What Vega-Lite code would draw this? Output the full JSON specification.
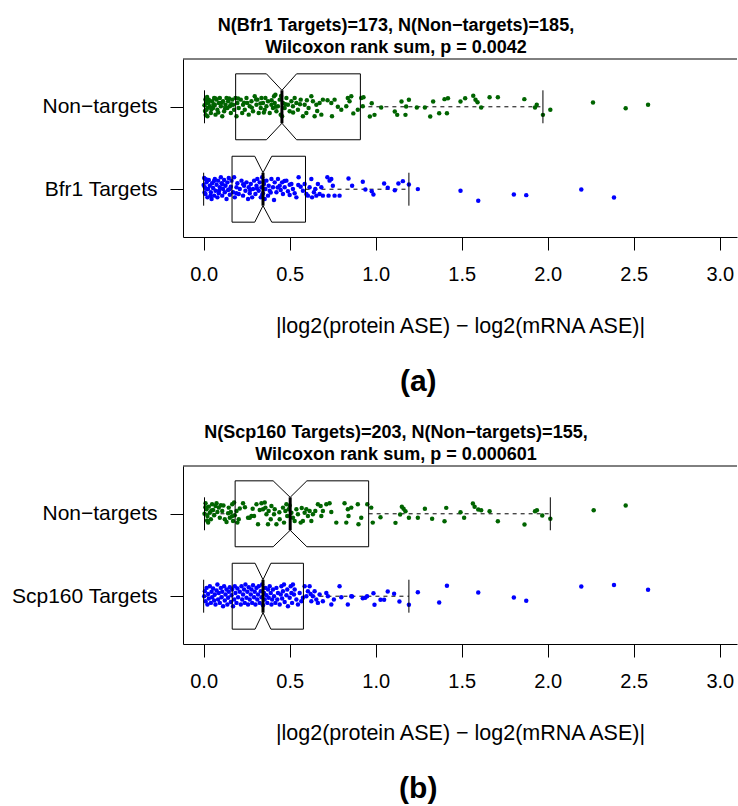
{
"$schema": "https://vega.github.io/schema/vega-lite/v6.json",
"background": "white",
"padding": {"left": 9, "top": 16, "right": 0, "bottom": 0},
"spacing": 26,
"config": {"view": {"stroke": null}, "font": "Liberation Sans",
 "axis": {"labelFont": "Liberation Sans", "titleFont": "Liberation Sans", "labelColor": "black", "titleColor": "black", "tickColor": "black", "domainColor": "black", "grid": false, "tickWidth": 1, "domainWidth": 1}},
"datasets": {
"aN": [{"x":0.017,"y":2.046},{"x":0.017,"y":1.965},{"x":0.022,"y":1.884},{"x":0.030,"y":2.087},{"x":0.036,"y":2.006},{"x":0.042,"y":1.925},{"x":0.049,"y":2.066},{"x":0.055,"y":1.985},{"x":0.061,"y":2.107},{"x":0.065,"y":2.026},{"x":0.069,"y":1.905},{"x":0.075,"y":2.087},{"x":0.080,"y":1.965},{"x":0.088,"y":2.046},{"x":0.094,"y":2.107},{"x":0.100,"y":2.006},{"x":0.108,"y":1.884},{"x":0.113,"y":2.066},{"x":0.119,"y":1.945},{"x":0.127,"y":2.026},{"x":0.133,"y":2.107},{"x":0.138,"y":1.985},{"x":0.142,"y":2.066},{"x":0.152,"y":2.006},{"x":0.158,"y":1.925},{"x":0.166,"y":2.087},{"x":0.171,"y":2.026},{"x":0.177,"y":1.965},{"x":0.185,"y":2.107},{"x":0.191,"y":1.884},{"x":0.196,"y":2.046},{"x":0.204,"y":1.985},{"x":0.216,"y":2.087},{"x":0.224,"y":1.925},{"x":0.229,"y":2.026},{"x":0.239,"y":1.965},{"x":0.249,"y":2.107},{"x":0.254,"y":2.046},{"x":0.262,"y":1.905},{"x":0.268,"y":2.006},{"x":0.278,"y":2.066},{"x":0.287,"y":1.945},{"x":0.297,"y":2.127},{"x":0.307,"y":2.026},{"x":0.312,"y":2.087},{"x":0.320,"y":1.925},{"x":0.332,"y":1.985},{"x":0.336,"y":2.107},{"x":0.345,"y":2.046},{"x":0.355,"y":1.965},{"x":0.359,"y":2.107},{"x":0.365,"y":2.006},{"x":0.374,"y":2.066},{"x":0.384,"y":1.925},{"x":0.394,"y":2.026},{"x":0.403,"y":1.985},{"x":0.409,"y":2.127},{"x":0.413,"y":2.046},{"x":0.417,"y":2.147},{"x":0.423,"y":1.945},{"x":0.432,"y":2.006},{"x":0.442,"y":2.087},{"x":0.448,"y":1.905},{"x":0.456,"y":1.884},{"x":0.461,"y":2.046},{"x":0.471,"y":1.985},{"x":0.481,"y":2.107},{"x":0.490,"y":2.026},{"x":0.500,"y":1.945},{"x":0.510,"y":2.066},{"x":0.519,"y":2.006},{"x":0.529,"y":2.107},{"x":0.539,"y":2.046},{"x":0.548,"y":1.965},{"x":0.564,"y":2.087},{"x":0.577,"y":1.884},{"x":0.587,"y":2.026},{"x":0.597,"y":1.925},{"x":0.610,"y":1.985},{"x":0.626,"y":2.127},{"x":0.635,"y":2.066},{"x":0.645,"y":1.884},{"x":0.655,"y":2.026},{"x":0.674,"y":2.046},{"x":0.684,"y":1.905},{"x":0.693,"y":2.087},{"x":0.742,"y":2.046},{"x":0.746,"y":1.884},{"x":0.761,"y":2.087},{"x":0.800,"y":1.965},{"x":0.829,"y":2.006},{"x":0.838,"y":2.107},{"x":0.848,"y":2.066},{"x":0.858,"y":2.127},{"x":0.896,"y":1.965},{"x":0.916,"y":2.107},{"x":0.925,"y":2.006},
{"x":0.005,"y":2.02},{"x":0.008,"y":1.95},{"x":0.010,"y":2.09},{"x":0.012,"y":1.90},{"x":0.020,"y":2.12},{"x":0.025,"y":1.99},{"x":0.028,"y":2.05},{"x":0.045,"y":1.97},{"x":0.058,"y":2.03},{"x":0.070,"y":2.10},{"x":0.085,"y":1.93},{"x":0.105,"y":2.05},{"x":0.125,"y":1.98},{"x":0.148,"y":2.10},{"x":0.160,"y":2.03},{"x":0.200,"y":2.10},{"x":0.235,"y":2.05},{"x":0.280,"y":1.99},{"x":0.305,"y":2.09},{"x":0.330,"y":2.04},{"x":0.350,"y":1.93},{"x":0.395,"y":2.08},{"x":0.420,"y":2.00},{"x":0.450,"y":2.13},{"x":0.475,"y":2.03},{"x":0.520,"y":1.93},{"x":0.560,"y":2.03},{"x":0.600,"y":2.08},{"x":0.660,"y":1.95},{"x":0.720,"y":2.08},{"x":0.780,"y":2.00},{"x":0.870,"y":1.92},
{"x":0.929,"y":2.117},{"x":0.977,"y":2.044},{"x":0.966,"y":1.882},{"x":0.993,"y":1.902},{"x":1.032,"y":1.991},{"x":1.111,"y":1.943},{"x":1.125,"y":1.902},{"x":1.150,"y":2.064},{"x":1.173,"y":1.902},{"x":1.193,"y":2.085},{"x":1.177,"y":2.004},{"x":1.239,"y":1.991},{"x":1.286,"y":1.991},{"x":1.317,"y":1.882},{"x":1.334,"y":2.064},{"x":1.369,"y":1.922},{"x":1.400,"y":2.093},{"x":1.414,"y":1.922},{"x":1.420,"y":2.105},{"x":1.493,"y":2.064},{"x":1.520,"y":2.105},{"x":1.567,"y":2.133},{"x":1.580,"y":2.085},{"x":1.592,"y":2.056},{"x":1.613,"y":1.991},{"x":1.662,"y":2.117},{"x":1.710,"y":2.117},{"x":1.864,"y":2.093},{"x":1.926,"y":1.991},{"x":1.936,"y":2.024},{"x":1.972,"y":1.902},{"x":2.015,"y":1.963},{"x":2.263,"y":2.052},{"x":2.453,"y":1.983},{"x":2.583,"y":2.024}],
"aT": [{"x":0.003,"y":1.136},{"x":0.007,"y":1.023},{"x":0.011,"y":0.942},{"x":0.017,"y":1.083},{"x":0.022,"y":0.901},{"x":0.026,"y":1.002},{"x":0.030,"y":1.112},{"x":0.036,"y":1.043},{"x":0.042,"y":0.962},{"x":0.046,"y":0.881},{"x":0.049,"y":1.071},{"x":0.055,"y":1.015},{"x":0.061,"y":0.922},{"x":0.065,"y":1.124},{"x":0.069,"y":0.982},{"x":0.075,"y":1.055},{"x":0.080,"y":0.901},{"x":0.084,"y":1.104},{"x":0.088,"y":0.950},{"x":0.094,"y":1.023},{"x":0.100,"y":1.144},{"x":0.104,"y":1.071},{"x":0.108,"y":0.922},{"x":0.113,"y":1.002},{"x":0.119,"y":1.112},{"x":0.123,"y":0.962},{"x":0.127,"y":1.043},{"x":0.133,"y":0.881},{"x":0.138,"y":1.083},{"x":0.142,"y":0.990},{"x":0.146,"y":1.136},{"x":0.152,"y":0.934},{"x":0.158,"y":1.031},{"x":0.162,"y":1.104},{"x":0.171,"y":0.962},{"x":0.177,"y":1.144},{"x":0.181,"y":0.901},{"x":0.191,"y":1.023},{"x":0.196,"y":1.071},{"x":0.204,"y":0.942},{"x":0.210,"y":1.002},{"x":0.220,"y":1.104},{"x":0.229,"y":0.922},{"x":0.235,"y":1.043},{"x":0.243,"y":0.982},{"x":0.249,"y":1.083},{"x":0.258,"y":0.881},{"x":0.262,"y":1.023},{"x":0.268,"y":0.950},{"x":0.274,"y":1.063},{"x":0.282,"y":0.901},{"x":0.287,"y":1.002},{"x":0.293,"y":1.104},{"x":0.301,"y":0.942},{"x":0.307,"y":1.043},{"x":0.312,"y":1.124},{"x":0.320,"y":0.982},{"x":0.326,"y":1.083},{"x":0.332,"y":0.901},{"x":0.336,"y":1.023},{"x":0.340,"y":1.144},{"x":0.345,"y":0.950},{"x":0.351,"y":1.063},{"x":0.355,"y":0.881},{"x":0.359,"y":1.002},{"x":0.365,"y":1.104},{"x":0.374,"y":0.922},{"x":0.378,"y":1.043},{"x":0.384,"y":0.982},{"x":0.394,"y":1.124},{"x":0.403,"y":1.023},{"x":0.409,"y":0.869},{"x":0.413,"y":1.083},{"x":0.423,"y":0.962},{"x":0.432,"y":1.124},{"x":0.442,"y":1.043},{"x":0.448,"y":0.990},{"x":0.456,"y":1.083},{"x":0.461,"y":0.942},{"x":0.471,"y":1.023},{"x":0.481,"y":1.104},{"x":0.490,"y":0.974},{"x":0.500,"y":1.055},{"x":0.510,"y":1.063},{"x":0.519,"y":1.002},{"x":0.529,"y":0.950},{"x":0.539,"y":0.901},{"x":0.552,"y":1.144},{"x":0.564,"y":1.031},{"x":0.577,"y":0.982},{"x":0.587,"y":1.063},{"x":0.597,"y":0.942},{"x":0.606,"y":0.922},{"x":0.616,"y":1.023},{"x":0.626,"y":1.124},{"x":0.630,"y":0.901},{"x":0.641,"y":0.962},{"x":0.649,"y":1.002},{"x":0.655,"y":0.922},{"x":0.664,"y":1.063},{"x":0.674,"y":0.942},{"x":0.684,"y":1.023},{"x":0.693,"y":0.922},{"x":0.719,"y":1.144},{"x":0.726,"y":0.922},{"x":0.732,"y":1.104},{"x":0.742,"y":1.124},{"x":0.751,"y":1.043},{"x":0.761,"y":0.922},{"x":0.790,"y":0.922},
{"x":0.000,"y":1.05},{"x":0.005,"y":0.96},{"x":0.013,"y":1.12},{"x":0.020,"y":1.00},{"x":0.040,"y":0.92},{"x":0.060,"y":1.10},{"x":0.090,"y":0.98},{"x":0.110,"y":1.06},{"x":0.150,"y":1.00},{"x":0.190,"y":0.95},{"x":0.230,"y":1.06},{"x":0.270,"y":0.99},{"x":0.310,"y":1.01},{"x":0.340,"y":0.93},{"x":0.350,"y":1.10},{"x":0.390,"y":0.96},{"x":0.430,"y":1.02},{"x":0.470,"y":1.10},{"x":0.500,"y":0.93},{"x":0.550,"y":1.05},
{"x":0.842,"y":1.131},{"x":0.863,"y":1.041},{"x":0.925,"y":1.090},{"x":0.940,"y":0.997},{"x":0.977,"y":0.976},{"x":0.987,"y":0.936},{"x":1.049,"y":1.070},{"x":1.070,"y":1.017},{"x":1.111,"y":0.988},{"x":1.132,"y":1.070},{"x":1.158,"y":1.098},{"x":1.193,"y":1.057},{"x":1.245,"y":1.001},{"x":1.493,"y":0.980},{"x":1.596,"y":0.859},{"x":1.803,"y":0.936},{"x":1.875,"y":0.928},{"x":2.195,"y":0.997},{"x":2.385,"y":0.899}],
"bN": [{"x":0.011,"y":2.127},{"x":0.017,"y":2.055},{"x":0.022,"y":1.974},{"x":0.026,"y":1.893},{"x":0.030,"y":2.087},{"x":0.036,"y":2.014},{"x":0.042,"y":1.933},{"x":0.049,"y":2.115},{"x":0.055,"y":2.047},{"x":0.061,"y":1.982},{"x":0.069,"y":2.095},{"x":0.075,"y":2.127},{"x":0.080,"y":2.022},{"x":0.088,"y":2.075},{"x":0.094,"y":1.953},{"x":0.100,"y":2.103},{"x":0.108,"y":2.034},{"x":0.123,"y":1.933},{"x":0.133,"y":1.901},{"x":0.142,"y":2.006},{"x":0.146,"y":2.075},{"x":0.152,"y":1.953},{"x":0.158,"y":2.022},{"x":0.166,"y":2.115},{"x":0.171,"y":1.913},{"x":0.177,"y":2.136},{"x":0.181,"y":1.982},{"x":0.191,"y":2.034},{"x":0.196,"y":1.893},{"x":0.204,"y":1.933},{"x":0.210,"y":2.063},{"x":0.229,"y":2.127},{"x":0.258,"y":1.953},{"x":0.268,"y":1.953},{"x":0.278,"y":1.974},{"x":0.293,"y":1.974},{"x":0.307,"y":2.115},{"x":0.316,"y":1.873},{"x":0.326,"y":2.047},{"x":0.336,"y":2.127},{"x":0.345,"y":2.055},{"x":0.355,"y":2.136},{"x":0.359,"y":2.075},{"x":0.365,"y":1.994},{"x":0.374,"y":1.873},{"x":0.378,"y":2.034},{"x":0.390,"y":1.933},{"x":0.394,"y":2.095},{"x":0.409,"y":1.994},{"x":0.413,"y":2.055},{"x":0.423,"y":1.873},{"x":0.442,"y":1.933},{"x":0.461,"y":2.075},{"x":0.467,"y":1.893},{"x":0.475,"y":2.034},{"x":0.481,"y":2.115},{"x":0.486,"y":1.974},{"x":0.494,"y":2.055},{"x":0.510,"y":2.014},{"x":0.519,"y":1.953},{"x":0.529,"y":1.913},{"x":0.539,"y":2.055},{"x":0.548,"y":1.994},{"x":0.564,"y":1.893},{"x":0.577,"y":1.913},{"x":0.587,"y":2.014},{"x":0.597,"y":2.055},{"x":0.606,"y":1.974},{"x":0.616,"y":2.034},{"x":0.626,"y":1.913},{"x":0.635,"y":1.994},{"x":0.649,"y":2.034},{"x":0.664,"y":2.115},{"x":0.680,"y":2.095},{"x":0.684,"y":1.974},{"x":0.693,"y":2.034},{"x":0.713,"y":2.115},{"x":0.732,"y":2.127},{"x":0.742,"y":2.022},{"x":0.771,"y":1.893},{"x":0.819,"y":2.127},{"x":0.829,"y":1.893},{"x":0.838,"y":2.055},{"x":0.842,"y":1.974},{"x":0.858,"y":2.075},{"x":0.896,"y":2.115},{"x":0.900,"y":1.873},{"x":0.916,"y":1.953},{"x":0.951,"y":2.115},{"x":0.974,"y":2.075},{"x":0.983,"y":1.893},
{"x":0.005,"y":2.00},{"x":0.010,"y":2.08},{"x":0.020,"y":1.92},{"x":0.045,"y":2.04},{"x":0.115,"y":2.10},{"x":0.165,"y":1.97},{"x":0.240,"y":2.08},{"x":0.285,"y":2.06},{"x":0.440,"y":2.02},{"x":0.500,"y":2.10},{"x":0.570,"y":2.07},
{"x":1.028,"y":1.959},{"x":1.115,"y":1.890},{"x":1.142,"y":1.991},{"x":1.152,"y":2.085},{"x":1.162,"y":2.060},{"x":1.173,"y":2.032},{"x":1.193,"y":1.951},{"x":1.245,"y":1.951},{"x":1.286,"y":2.060},{"x":1.328,"y":1.939},{"x":1.400,"y":1.910},{"x":1.410,"y":2.072},{"x":1.493,"y":2.020},{"x":1.514,"y":1.951},{"x":1.565,"y":2.125},{"x":1.575,"y":2.085},{"x":1.596,"y":2.052},{"x":1.613,"y":2.044},{"x":1.662,"y":2.032},{"x":1.710,"y":1.910},{"x":1.865,"y":1.869},{"x":1.926,"y":2.032},{"x":1.937,"y":2.044},{"x":1.968,"y":1.979},{"x":2.015,"y":1.939},{"x":2.267,"y":2.044},{"x":2.453,"y":2.101}],
"bT": [{"x":0.003,"y":1.000},{"x":0.007,"y":1.061},{"x":0.011,"y":0.939},{"x":0.017,"y":1.101},{"x":0.022,"y":0.899},{"x":0.026,"y":1.028},{"x":0.030,"y":0.972},{"x":0.036,"y":1.121},{"x":0.042,"y":0.919},{"x":0.046,"y":1.053},{"x":0.049,"y":0.988},{"x":0.055,"y":1.093},{"x":0.061,"y":0.947},{"x":0.065,"y":1.020},{"x":0.069,"y":0.899},{"x":0.075,"y":1.069},{"x":0.080,"y":1.142},{"x":0.084,"y":0.960},{"x":0.088,"y":1.040},{"x":0.094,"y":0.919},{"x":0.100,"y":1.101},{"x":0.104,"y":0.988},{"x":0.108,"y":1.053},{"x":0.113,"y":0.879},{"x":0.119,"y":1.121},{"x":0.123,"y":0.947},{"x":0.127,"y":1.020},{"x":0.133,"y":1.081},{"x":0.138,"y":0.899},{"x":0.142,"y":0.980},{"x":0.146,"y":1.053},{"x":0.152,"y":1.109},{"x":0.158,"y":0.931},{"x":0.162,"y":1.012},{"x":0.166,"y":1.081},{"x":0.171,"y":0.879},{"x":0.177,"y":0.960},{"x":0.181,"y":1.121},{"x":0.185,"y":1.040},{"x":0.191,"y":0.919},{"x":0.196,"y":1.093},{"x":0.200,"y":0.988},{"x":0.210,"y":1.053},{"x":0.216,"y":0.899},{"x":0.220,"y":1.121},{"x":0.224,"y":0.960},{"x":0.229,"y":1.020},{"x":0.235,"y":1.081},{"x":0.239,"y":0.919},{"x":0.243,"y":1.142},{"x":0.249,"y":0.980},{"x":0.254,"y":1.053},{"x":0.258,"y":0.899},{"x":0.262,"y":1.109},{"x":0.268,"y":0.960},{"x":0.274,"y":1.020},{"x":0.278,"y":1.081},{"x":0.282,"y":0.919},{"x":0.287,"y":1.133},{"x":0.293,"y":0.988},{"x":0.297,"y":1.053},{"x":0.301,"y":0.899},{"x":0.307,"y":1.101},{"x":0.312,"y":0.960},{"x":0.316,"y":1.020},{"x":0.320,"y":1.121},{"x":0.326,"y":0.919},{"x":0.332,"y":1.061},{"x":0.336,"y":0.988},{"x":0.340,"y":1.142},{"x":0.345,"y":0.891},{"x":0.351,"y":1.040},{"x":0.355,"y":0.960},{"x":0.359,"y":1.101},{"x":0.365,"y":1.012},{"x":0.370,"y":0.919},{"x":0.374,"y":1.081},{"x":0.378,"y":0.980},{"x":0.384,"y":1.121},{"x":0.390,"y":1.040},{"x":0.394,"y":0.899},{"x":0.398,"y":0.960},{"x":0.403,"y":1.081},{"x":0.409,"y":1.000},{"x":0.417,"y":0.919},{"x":0.423,"y":1.101},{"x":0.428,"y":0.960},{"x":0.432,"y":1.040},{"x":0.442,"y":0.899},{"x":0.448,"y":1.020},{"x":0.452,"y":1.121},{"x":0.456,"y":0.972},{"x":0.461,"y":1.061},{"x":0.467,"y":1.142},{"x":0.471,"y":0.931},{"x":0.481,"y":1.012},{"x":0.486,"y":1.081},{"x":0.490,"y":0.879},{"x":0.500,"y":0.980},{"x":0.506,"y":1.121},{"x":0.510,"y":1.040},{"x":0.514,"y":0.919},{"x":0.519,"y":1.142},{"x":0.525,"y":1.020},{"x":0.529,"y":1.081},{"x":0.539,"y":0.960},{"x":0.548,"y":0.899},{"x":0.558,"y":1.040},{"x":0.568,"y":0.939},{"x":0.577,"y":0.980},{"x":0.587,"y":1.121},{"x":0.597,"y":1.000},{"x":0.606,"y":1.061},{"x":0.616,"y":1.121},{"x":0.622,"y":1.028},{"x":0.626,"y":0.939},{"x":0.635,"y":1.000},{"x":0.645,"y":1.061},{"x":0.655,"y":0.960},{"x":0.664,"y":0.919},{"x":0.674,"y":1.020},{"x":0.693,"y":0.939},{"x":0.713,"y":1.040},{"x":0.722,"y":1.000},{"x":0.742,"y":0.899},{"x":0.757,"y":0.960},{"x":0.790,"y":1.121},{"x":0.800,"y":0.988},{"x":0.838,"y":0.899},{"x":0.858,"y":1.000},
{"x":0.863,"y":0.997},{"x":0.925,"y":0.976},{"x":0.939,"y":0.980},{"x":0.950,"y":1.000},{"x":0.987,"y":1.037},{"x":0.993,"y":0.895},{"x":1.028,"y":0.956},{"x":1.049,"y":0.956},{"x":1.070,"y":1.058},{"x":1.107,"y":1.029},{"x":1.138,"y":0.936},{"x":1.193,"y":0.895},{"x":1.245,"y":1.049},{"x":1.369,"y":0.923},{"x":1.414,"y":1.126},{"x":1.596,"y":1.045},{"x":1.803,"y":0.984},{"x":1.875,"y":0.944},{"x":2.195,"y":1.118},{"x":2.385,"y":1.135},{"x":2.583,"y":1.078}],
"sA": [{"g":2,"lo":0.005,"q1":0.186,"nlo":0.365,"med":0.455,"nhi":0.540,"q3":0.911,"hi":1.972,"top":2.4,"bot":1.6,"ntop":2.2,"nbot":1.8},{"g":1,"lo":0.0,"q1":0.165,"nlo":0.297,"med":0.345,"nhi":0.396,"q3":0.592,"hi":1.193,"top":1.4,"bot":0.6,"ntop":1.2,"nbot":0.8}],
"sB": [{"g":2,"lo":0.005,"q1":0.183,"nlo":0.404,"med":0.503,"nhi":0.600,"q3":0.959,"hi":2.015,"top":2.4,"bot":1.6,"ntop":2.2,"nbot":1.8},{"g":1,"lo":0.0,"q1":0.166,"nlo":0.299,"med":0.345,"nhi":0.391,"q3":0.580,"hi":1.193,"top":1.4,"bot":0.6,"ntop":1.2,"nbot":0.8}],
"frame": [{"edge": 2.58}]
},
"vconcat": [
{"title": {"text": "(a)", "orient": "bottom", "fontSize": 30, "fontWeight": "bold", "font": "Liberation Sans", "color": "black", "offset": 30, "anchor": "middle", "frame": "bounds", "dx": 45},
 "vconcat": [
 {"width": 554, "height": 178,
  "title": {"text": ["N(Bfr1 Targets)=173, N(Non−targets)=185,", "Wilcoxon rank sum, p = 0.0042"], "fontSize": 18, "fontWeight": "bold", "font": "Liberation Sans", "color": "black", "lineHeight": 22, "anchor": "middle", "frame": "group", "dx": -64, "offset": 2},
  "layer": [
   {"data": {"name": "sA"}, "mark": {"type": "rule", "color": "black", "strokeWidth": 1, "strokeDash": [4, 4]}, "encoding": {
     "x": {"field": "lo", "type": "quantitative", "scale": {"domain": [-0.12, 3.1], "nice": false, "zero": false}, "axis": {"title": "|log2(protein ASE) − log2(mRNA ASE)|", "values": [0, 0.5, 1, 1.5, 2, 2.5, 3], "format": ".1f", "tickSize": 13, "labelPadding": 14, "labelFontSize": 20, "titleFontSize": 21.5, "titleFontWeight": "normal", "titlePadding": 31, "labelFlush": false}},
     "x2": {"field": "q1"},
     "y": {"field": "g", "type": "quantitative", "scale": {"domain": [0.42, 2.58], "nice": false, "zero": false}, "axis": {"title": null, "values": [1, 2], "labelExpr": "datum.value == 2 ? 'Non−targets' : 'Bfr1 Targets'", "tickSize": 13, "labelPadding": 13, "labelFontSize": 21, "minExtent": 174, "maxExtent": 174}}}},
   {"data": {"name": "sA"}, "mark": {"type": "rule", "color": "black", "strokeWidth": 1, "strokeDash": [4, 4]}, "encoding": {"x": {"field": "q3", "type": "quantitative"}, "x2": {"field": "hi"}, "y": {"field": "g", "type": "quantitative"}}},
   {"data": {"name": "aN"}, "mark": {"type": "circle", "color": "#006400", "size": 20, "opacity": 1}, "encoding": {"x": {"field": "x", "type": "quantitative"}, "y": {"field": "y", "type": "quantitative"}}},
   {"data": {"name": "aT"}, "mark": {"type": "circle", "color": "#0000ff", "size": 20, "opacity": 1}, "encoding": {"x": {"field": "x", "type": "quantitative"}, "y": {"field": "y", "type": "quantitative"}}},
   {"data": {"name": "sA"}, "mark": {"type": "rule", "color": "black", "strokeWidth": 1}, "encoding": {"x": {"field": "q1", "type": "quantitative"}, "x2": {"field": "nlo"}, "y": {"field": "top", "type": "quantitative"}}},
   {"data": {"name": "sA"}, "mark": {"type": "rule", "color": "black", "strokeWidth": 1}, "encoding": {"x": {"field": "nlo", "type": "quantitative"}, "x2": {"field": "med"}, "y": {"field": "top", "type": "quantitative"}, "y2": {"field": "ntop"}}},
   {"data": {"name": "sA"}, "mark": {"type": "rule", "color": "black", "strokeWidth": 1}, "encoding": {"x": {"field": "med", "type": "quantitative"}, "x2": {"field": "nhi"}, "y": {"field": "ntop", "type": "quantitative"}, "y2": {"field": "top"}}},
   {"data": {"name": "sA"}, "mark": {"type": "rule", "color": "black", "strokeWidth": 1}, "encoding": {"x": {"field": "nhi", "type": "quantitative"}, "x2": {"field": "q3"}, "y": {"field": "top", "type": "quantitative"}}},
   {"data": {"name": "sA"}, "mark": {"type": "rule", "color": "black", "strokeWidth": 1}, "encoding": {"x": {"field": "q1", "type": "quantitative"}, "x2": {"field": "nlo"}, "y": {"field": "bot", "type": "quantitative"}}},
   {"data": {"name": "sA"}, "mark": {"type": "rule", "color": "black", "strokeWidth": 1}, "encoding": {"x": {"field": "nlo", "type": "quantitative"}, "x2": {"field": "med"}, "y": {"field": "bot", "type": "quantitative"}, "y2": {"field": "nbot"}}},
   {"data": {"name": "sA"}, "mark": {"type": "rule", "color": "black", "strokeWidth": 1}, "encoding": {"x": {"field": "med", "type": "quantitative"}, "x2": {"field": "nhi"}, "y": {"field": "nbot", "type": "quantitative"}, "y2": {"field": "bot"}}},
   {"data": {"name": "sA"}, "mark": {"type": "rule", "color": "black", "strokeWidth": 1}, "encoding": {"x": {"field": "nhi", "type": "quantitative"}, "x2": {"field": "q3"}, "y": {"field": "bot", "type": "quantitative"}}},
   {"data": {"name": "sA"}, "mark": {"type": "rule", "color": "black", "strokeWidth": 1}, "encoding": {"x": {"field": "q1", "type": "quantitative"}, "y": {"field": "bot", "type": "quantitative"}, "y2": {"field": "top"}}},
   {"data": {"name": "sA"}, "mark": {"type": "rule", "color": "black", "strokeWidth": 1}, "encoding": {"x": {"field": "q3", "type": "quantitative"}, "y": {"field": "bot", "type": "quantitative"}, "y2": {"field": "top"}}},
   {"data": {"name": "sA"}, "mark": {"type": "rule", "color": "black", "strokeWidth": 3}, "encoding": {"x": {"field": "med", "type": "quantitative"}, "y": {"field": "nbot", "type": "quantitative"}, "y2": {"field": "ntop"}}},
   {"data": {"name": "sA"}, "mark": {"type": "rule", "color": "black", "strokeWidth": 1}, "encoding": {"x": {"field": "lo", "type": "quantitative"}, "y": {"field": "nbot", "type": "quantitative"}, "y2": {"field": "ntop"}}},
   {"data": {"name": "sA"}, "mark": {"type": "rule", "color": "black", "strokeWidth": 1}, "encoding": {"x": {"field": "hi", "type": "quantitative"}, "y": {"field": "nbot", "type": "quantitative"}, "y2": {"field": "ntop"}}},
   {"data": {"name": "frame"}, "mark": {"type": "rule", "color": "black", "strokeWidth": 1}, "encoding": {"y": {"field": "edge", "type": "quantitative"}}}
  ]}
 ]},
{"title": {"text": "(b)", "orient": "bottom", "fontSize": 30, "fontWeight": "bold", "font": "Liberation Sans", "color": "black", "offset": 30, "anchor": "middle", "frame": "bounds", "dx": 45},
 "vconcat": [
 {"width": 554, "height": 178,
  "title": {"text": ["N(Scp160 Targets)=203, N(Non−targets)=155,", "Wilcoxon rank sum, p = 0.000601"], "fontSize": 18, "fontWeight": "bold", "font": "Liberation Sans", "color": "black", "lineHeight": 22, "anchor": "middle", "frame": "group", "dx": -64, "offset": 2},
  "layer": [
   {"data": {"name": "sB"}, "mark": {"type": "rule", "color": "black", "strokeWidth": 1, "strokeDash": [4, 4]}, "encoding": {
     "x": {"field": "lo", "type": "quantitative", "scale": {"domain": [-0.12, 3.1], "nice": false, "zero": false}, "axis": {"title": "|log2(protein ASE) − log2(mRNA ASE)|", "values": [0, 0.5, 1, 1.5, 2, 2.5, 3], "format": ".1f", "tickSize": 13, "labelPadding": 14, "labelFontSize": 20, "titleFontSize": 21.5, "titleFontWeight": "normal", "titlePadding": 31, "labelFlush": false}},
     "x2": {"field": "q1"},
     "y": {"field": "g", "type": "quantitative", "scale": {"domain": [0.42, 2.58], "nice": false, "zero": false}, "axis": {"title": null, "values": [1, 2], "labelExpr": "datum.value == 2 ? 'Non−targets' : 'Scp160 Targets'", "tickSize": 13, "labelPadding": 13, "labelFontSize": 21, "minExtent": 174, "maxExtent": 174}}}},
   {"data": {"name": "sB"}, "mark": {"type": "rule", "color": "black", "strokeWidth": 1, "strokeDash": [4, 4]}, "encoding": {"x": {"field": "q3", "type": "quantitative"}, "x2": {"field": "hi"}, "y": {"field": "g", "type": "quantitative"}}},
   {"data": {"name": "bN"}, "mark": {"type": "circle", "color": "#006400", "size": 20, "opacity": 1}, "encoding": {"x": {"field": "x", "type": "quantitative"}, "y": {"field": "y", "type": "quantitative"}}},
   {"data": {"name": "bT"}, "mark": {"type": "circle", "color": "#0000ff", "size": 20, "opacity": 1}, "encoding": {"x": {"field": "x", "type": "quantitative"}, "y": {"field": "y", "type": "quantitative"}}},
   {"data": {"name": "sB"}, "mark": {"type": "rule", "color": "black", "strokeWidth": 1}, "encoding": {"x": {"field": "q1", "type": "quantitative"}, "x2": {"field": "nlo"}, "y": {"field": "top", "type": "quantitative"}}},
   {"data": {"name": "sB"}, "mark": {"type": "rule", "color": "black", "strokeWidth": 1}, "encoding": {"x": {"field": "nlo", "type": "quantitative"}, "x2": {"field": "med"}, "y": {"field": "top", "type": "quantitative"}, "y2": {"field": "ntop"}}},
   {"data": {"name": "sB"}, "mark": {"type": "rule", "color": "black", "strokeWidth": 1}, "encoding": {"x": {"field": "med", "type": "quantitative"}, "x2": {"field": "nhi"}, "y": {"field": "ntop", "type": "quantitative"}, "y2": {"field": "top"}}},
   {"data": {"name": "sB"}, "mark": {"type": "rule", "color": "black", "strokeWidth": 1}, "encoding": {"x": {"field": "nhi", "type": "quantitative"}, "x2": {"field": "q3"}, "y": {"field": "top", "type": "quantitative"}}},
   {"data": {"name": "sB"}, "mark": {"type": "rule", "color": "black", "strokeWidth": 1}, "encoding": {"x": {"field": "q1", "type": "quantitative"}, "x2": {"field": "nlo"}, "y": {"field": "bot", "type": "quantitative"}}},
   {"data": {"name": "sB"}, "mark": {"type": "rule", "color": "black", "strokeWidth": 1}, "encoding": {"x": {"field": "nlo", "type": "quantitative"}, "x2": {"field": "med"}, "y": {"field": "bot", "type": "quantitative"}, "y2": {"field": "nbot"}}},
   {"data": {"name": "sB"}, "mark": {"type": "rule", "color": "black", "strokeWidth": 1}, "encoding": {"x": {"field": "med", "type": "quantitative"}, "x2": {"field": "nhi"}, "y": {"field": "nbot", "type": "quantitative"}, "y2": {"field": "bot"}}},
   {"data": {"name": "sB"}, "mark": {"type": "rule", "color": "black", "strokeWidth": 1}, "encoding": {"x": {"field": "nhi", "type": "quantitative"}, "x2": {"field": "q3"}, "y": {"field": "bot", "type": "quantitative"}}},
   {"data": {"name": "sB"}, "mark": {"type": "rule", "color": "black", "strokeWidth": 1}, "encoding": {"x": {"field": "q1", "type": "quantitative"}, "y": {"field": "bot", "type": "quantitative"}, "y2": {"field": "top"}}},
   {"data": {"name": "sB"}, "mark": {"type": "rule", "color": "black", "strokeWidth": 1}, "encoding": {"x": {"field": "q3", "type": "quantitative"}, "y": {"field": "bot", "type": "quantitative"}, "y2": {"field": "top"}}},
   {"data": {"name": "sB"}, "mark": {"type": "rule", "color": "black", "strokeWidth": 3}, "encoding": {"x": {"field": "med", "type": "quantitative"}, "y": {"field": "nbot", "type": "quantitative"}, "y2": {"field": "ntop"}}},
   {"data": {"name": "sB"}, "mark": {"type": "rule", "color": "black", "strokeWidth": 1}, "encoding": {"x": {"field": "lo", "type": "quantitative"}, "y": {"field": "nbot", "type": "quantitative"}, "y2": {"field": "ntop"}}},
   {"data": {"name": "sB"}, "mark": {"type": "rule", "color": "black", "strokeWidth": 1}, "encoding": {"x": {"field": "hi", "type": "quantitative"}, "y": {"field": "nbot", "type": "quantitative"}, "y2": {"field": "ntop"}}},
   {"data": {"name": "frame"}, "mark": {"type": "rule", "color": "black", "strokeWidth": 1}, "encoding": {"y": {"field": "edge", "type": "quantitative"}}}
  ]}
 ]}
]
}
